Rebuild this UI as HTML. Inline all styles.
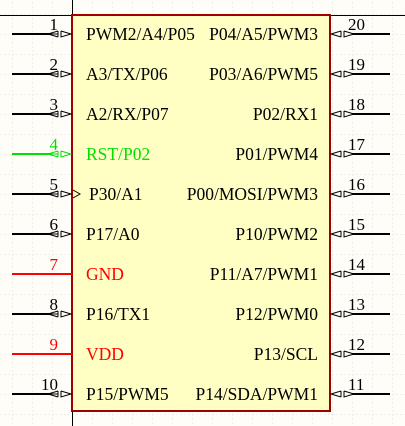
<!DOCTYPE html>
<html><head><meta charset="utf-8"><style>
html,body{margin:0;padding:0;background:#fffdf8}
svg{display:block}
text{font-family:"Liberation Serif",serif;font-size:17.5px}
text.num{font-size:17px}
</style></head><body>
<svg width="405" height="426" viewBox="0 0 405 426" id="s">
<defs><pattern id="g" width="20" height="20" patternUnits="userSpaceOnUse" x="12" y="14"><path d="M0 0V20M0 0H20" stroke="#e6e3dc" stroke-width="1" stroke-dasharray="2,2" fill="none"/></pattern></defs>
<rect width="405" height="426" fill="url(#g)"/>
<line x1="72.5" y1="0" x2="72.5" y2="426" stroke="#000"/>
<line x1="0" y1="15.5" x2="405" y2="15.5" stroke="#000"/>
<rect x="72" y="15" width="258" height="396" fill="#ffffc4" stroke="#a00000" stroke-width="2"/>
<g id="pins"></g>
</svg>
<script>
const leftNames=["PWM2/A4/P05","A3/TX/P06","A2/RX/P07","RST/P02","P30/A1","P17/A0","GND","P16/TX1","VDD","P15/PWM5"];
const rightNames=["P04/A5/PWM3","P03/A6/PWM5","P02/RX1","P01/PWM4","P00/MOSI/PWM3","P10/PWM2","P11/A7/PWM1","P12/PWM0","P13/SCL","P14/SDA/PWM1"];
const leftColors={3:"#00e000",6:"#ff0000",8:"#ff0000"};
const noIO={6:1,8:1};
const g=document.getElementById('pins');
const NS="http://www.w3.org/2000/svg";
function mk(t,a){const e=document.createElementNS(NS,t);for(const k in a)e.setAttribute(k,a[k]);g.appendChild(e);return e;}
for(let i=0;i<10;i++){
  const y=34+i*40;
  const c=leftColors[i]||"#000";
  let l=mk('line',{x1:12,y1:y,x2:noIO[i]?72:50,y2:y,stroke:c,'stroke-width':2});
  
  
  if(!noIO[i]){
    let s=mk('path',{d:`M58 ${y-3}L48 ${y}L58 ${y+3}M58 ${y-3}V${y+3}M61 ${y-3}V${y+3}L71 ${y}L61 ${y-3}M50 ${y}H58`,stroke:c,fill:'none','stroke-width':1});
    
    
  }
  if(i===4){let ck=mk('path',{d:`M73 ${y-4}L80 ${y}L73 ${y+4}`,stroke:'#000',fill:'none'});
    
    }
  let n=mk('text',{x:58,y:y-4,'text-anchor':'end',fill:c,class:'num'});n.textContent=String(i+1);
  
  
  let t=mk('text',{x:i===4?89:86,y:y+6,fill:c});t.textContent=leftNames[i];
  
  
  const p=20-i;
  let rl=mk('line',{x1:352,y1:y,x2:390,y2:y,stroke:'#000','stroke-width':2});
  
  
  let rs=mk('path',{d:`M341 ${y-3}L331 ${y}L341 ${y+3}M341 ${y-3}V${y+3}M344 ${y-3}V${y+3}L354 ${y}L344 ${y-3}`,stroke:'#000',fill:'none','stroke-width':1});
  
  
  let rn=mk('text',{x:348,y:y-4,fill:'#000',class:'num'});rn.textContent=String(p);
  
  
  let rt=mk('text',{x:318,y:y+6,'text-anchor':'end',fill:'#000'});rt.textContent=rightNames[i];
  
  
}
</script>
</body></html>
